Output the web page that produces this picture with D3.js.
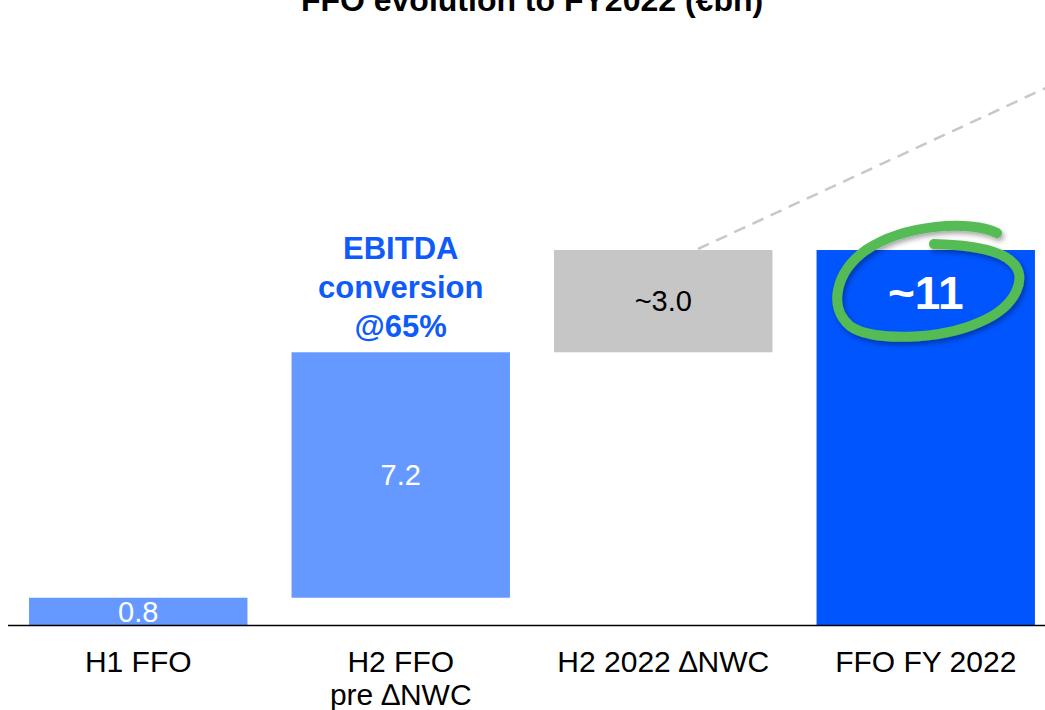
<!DOCTYPE html>
<html>
<head>
<meta charset="utf-8">
<script src="https://cdn.jsdelivr.net/npm/d3@7"></script>
<style>
  body { margin: 0; background: #fff; }
  svg { display: block; font-family: "Liberation Sans", Arial, sans-serif; }
</style>
</head>
<body>
<svg id="chart"></svg>
<script>
// data
const categories = ["H1 FFO", "H2 FFO\npre \u2206NWC", "H2 2022 \u2206NWC", "FFO FY 2022"];
const values = [0.8, 7.2, 3.0, 11];
const valueLabels = ["0.8", "7.2", "~3.0", "~11"];
const isTotal = [false, false, false, true];
const barColors = ["#6699FF", "#6699FF", "#C6C6C6", "#0055FF"];
const labelColors = ["#ffffff", "#ffffff", "#000000", "#ffffff"];
const note = ["EBITDA", "conversion", "@65%"];

const w = 1045, h = 710;
const baseY = 625;

const chart = d3.select("#chart").attr("width", w).attr("height", h);

// running totals for the waterfall
let run = 0;
const bars = categories.map((c, i) => {
  let y0, y1;
  if (isTotal[i]) { y0 = 0; y1 = values[i]; }
  else { y0 = run; y1 = run + values[i]; run = y1; }
  return { cat: c, y0: y0, y1: y1, i: i };
});

const xScale = d3.scaleBand()
  .domain(categories)
  .range([7, 1057])
  .paddingInner(0.168)
  .paddingOuter(0.084);

const yScale = d3.scaleLinear()
  .domain([0, 11])
  .range([baseY, 250]);

// title (cut off at the top, like the original slide)
chart.append("text")
  .attr("x", 532)
  .attr("y", 11)
  .attr("text-anchor", "middle")
  .style("font-size", "32px")
  .style("font-weight", "bold")
  .text("FFO evolution to FY2022 (\u20acbn)");

// dashed connector
chart.append("line")
  .attr("x1", 698).attr("y1", 249)
  .attr("x2", 1050).attr("y2", 86)
  .attr("stroke", "#C8C8C8")
  .attr("stroke-width", 2.5)
  .attr("stroke-dasharray", "12,8");

chart.selectAll("rect.bar")
  .data(bars)
  .enter()
  .append("rect")
  .attr("class", "bar")
  .attr("x", d => xScale(d.cat))
  .attr("width", xScale.bandwidth())
  .attr("y", d => yScale(d.y1))
  .attr("height", d => yScale(d.y0) - yScale(d.y1))
  .attr("fill", (d, i) => barColors[i]);

// value labels
chart.selectAll("text.val")
  .data(bars)
  .enter()
  .append("text")
  .attr("class", "val")
  .attr("x", d => xScale(d.cat) + xScale.bandwidth() / 2)
  .attr("y", d => d.i == 3 ? (yScale(d.y1) + 59) : (yScale(d.y0) + yScale(d.y1)) / 2)
  .attr("dy", d => d.i == 3 ? 0 : "0.35em")
  .attr("text-anchor", "middle")
  .attr("fill", (d, i) => labelColors[i])
  .style("font-size", d => d.i == 3 ? "46px" : "29px")
  .style("font-weight", d => d.i == 3 ? "bold" : "normal")
  .text((d, i) => valueLabels[i]);

// baseline
chart.append("line")
  .attr("x1", 8).attr("x2", w)
  .attr("y1", baseY + 0.5).attr("y2", baseY + 0.5)
  .attr("stroke", "#000").attr("stroke-width", 1.5);

// category labels
const catG = chart.selectAll("text.cat")
  .data(categories)
  .enter()
  .append("text")
  .attr("class", "cat")
  .attr("x", d => xScale(d) + xScale.bandwidth() / 2)
  .attr("y", 672)
  .attr("text-anchor", "middle")
  .style("font-size", "30px");

catG.selectAll("tspan")
  .data(d => d.split("\n"))
  .enter()
  .append("tspan")
  .attr("x", function () { return d3.select(this.parentNode).attr("x"); })
  .attr("dy", (d, i) => i == 0 ? 0 : 33)
  .text(d => d);

// EBITDA note above second bar
const nx = xScale(categories[1]) + xScale.bandwidth() / 2;
chart.selectAll("text.note")
  .data(note)
  .enter()
  .append("text")
  .attr("class", "note")
  .attr("x", nx)
  .attr("y", (d, i) => 259 + i * 39)
  .attr("text-anchor", "middle")
  .attr("fill", "#0F5BFA")
  .style("font-size", "31px")
  .style("font-weight", "bold")
  .text(d => d);

// hand-drawn green circle around the total
const defs = chart.append("defs");
const f = defs.append("filter").attr("id", "shadow").attr("x", "-20%").attr("y", "-20%").attr("width", "140%").attr("height", "140%");
f.append("feDropShadow").attr("dx", 2).attr("dy", 3).attr("stdDeviation", 2.5).attr("flood-color", "#000").attr("flood-opacity", 0.35);

const circ = chart.append("g").attr("filter", "url(#shadow)");
circ.append("path")
  .attr("d", "M997,233 C970,220 905,224 866,250 C835,272 828,308 850,326 C872,342 940,340 980,322 C1018,306 1028,276 1012,262 C1000,250 972,245 934,244")
  .attr("fill", "none")
  .attr("stroke", "#55BB55")
  .attr("stroke-width", 10)
  .attr("stroke-linecap", "round");
</script>
</body>
</html>
